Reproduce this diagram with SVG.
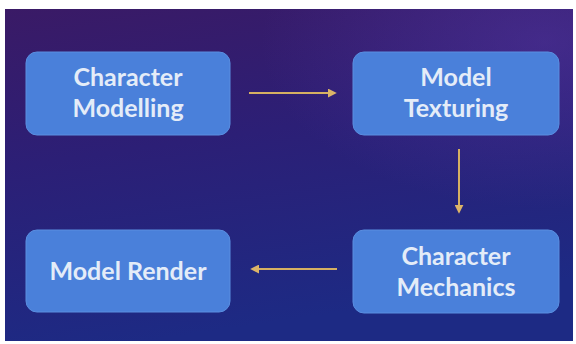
<svg xmlns="http://www.w3.org/2000/svg" width="576" height="344" viewBox="0 0 576 344">
  <defs>
    <linearGradient id="bg" x1="0" y1="0" x2="0.25" y2="1">
      <stop offset="0" stop-color="#3a1a66"/>
      <stop offset="0.45" stop-color="#2c1f76"/>
      <stop offset="1" stop-color="#1d2a84"/>
    </linearGradient>
    <radialGradient id="glow" cx="0.95" cy="0.1" r="0.5">
      <stop offset="0" stop-color="#5a3aa8" stop-opacity="0.45"/>
      <stop offset="1" stop-color="#5a3aa8" stop-opacity="0"/>
    </radialGradient>
    <marker id="ah" viewBox="0 0 10 10" refX="8" refY="5" markerWidth="4.5" markerHeight="4.5" orient="auto" markerUnits="strokeWidth">
      <path d="M0,0 L10,5 L0,10 z" fill="#dcb468"/>
    </marker>
  </defs>
  <style>
    .box { fill: #4a80da; stroke: #5a8ee0; stroke-width: 1; }
    .lbl { font-family: Lato, "Open Sans", "Liberation Sans", sans-serif; font-size: 25px; font-weight: bold; fill: #e4ecf8; text-anchor: middle; }
    .conn { stroke: #d6b062; stroke-width: 2; fill: none; marker-end: url(#ah); }
  </style>
  <rect x="0" y="0" width="576" height="344" fill="#ffffff"/>
  <rect x="5" y="9" width="568" height="332" fill="url(#bg)"/>
  <rect x="5" y="9" width="568" height="332" fill="url(#glow)"/>

  <g id="node-character-modelling">
    <rect class="box" x="26" y="52" width="204" height="83" rx="11"/>
    <text class="lbl" x="128" y="86">Character</text>
    <text class="lbl" x="128" y="117">Modelling</text>
  </g>
  <g id="node-model-texturing">
    <rect class="box" x="353" y="52" width="206" height="83" rx="11"/>
    <text class="lbl" x="456" y="86">Model</text>
    <text class="lbl" x="456" y="117">Texturing</text>
  </g>
  <g id="node-character-mechanics">
    <rect class="box" x="353" y="230" width="206" height="83" rx="11"/>
    <text class="lbl" x="456" y="265">Character</text>
    <text class="lbl" x="456" y="296">Mechanics</text>
  </g>
  <g id="node-model-render">
    <rect class="box" x="26" y="230" width="204" height="82" rx="11"/>
    <text class="lbl" x="128" y="280">Model Render</text>
  </g>

  <g id="connectors">
    <line class="conn" x1="249" y1="93" x2="335" y2="93"/>
    <line class="conn" x1="459" y1="149" x2="459" y2="212"/>
    <line class="conn" x1="337" y1="269" x2="252" y2="269"/>
  </g>
</svg>
